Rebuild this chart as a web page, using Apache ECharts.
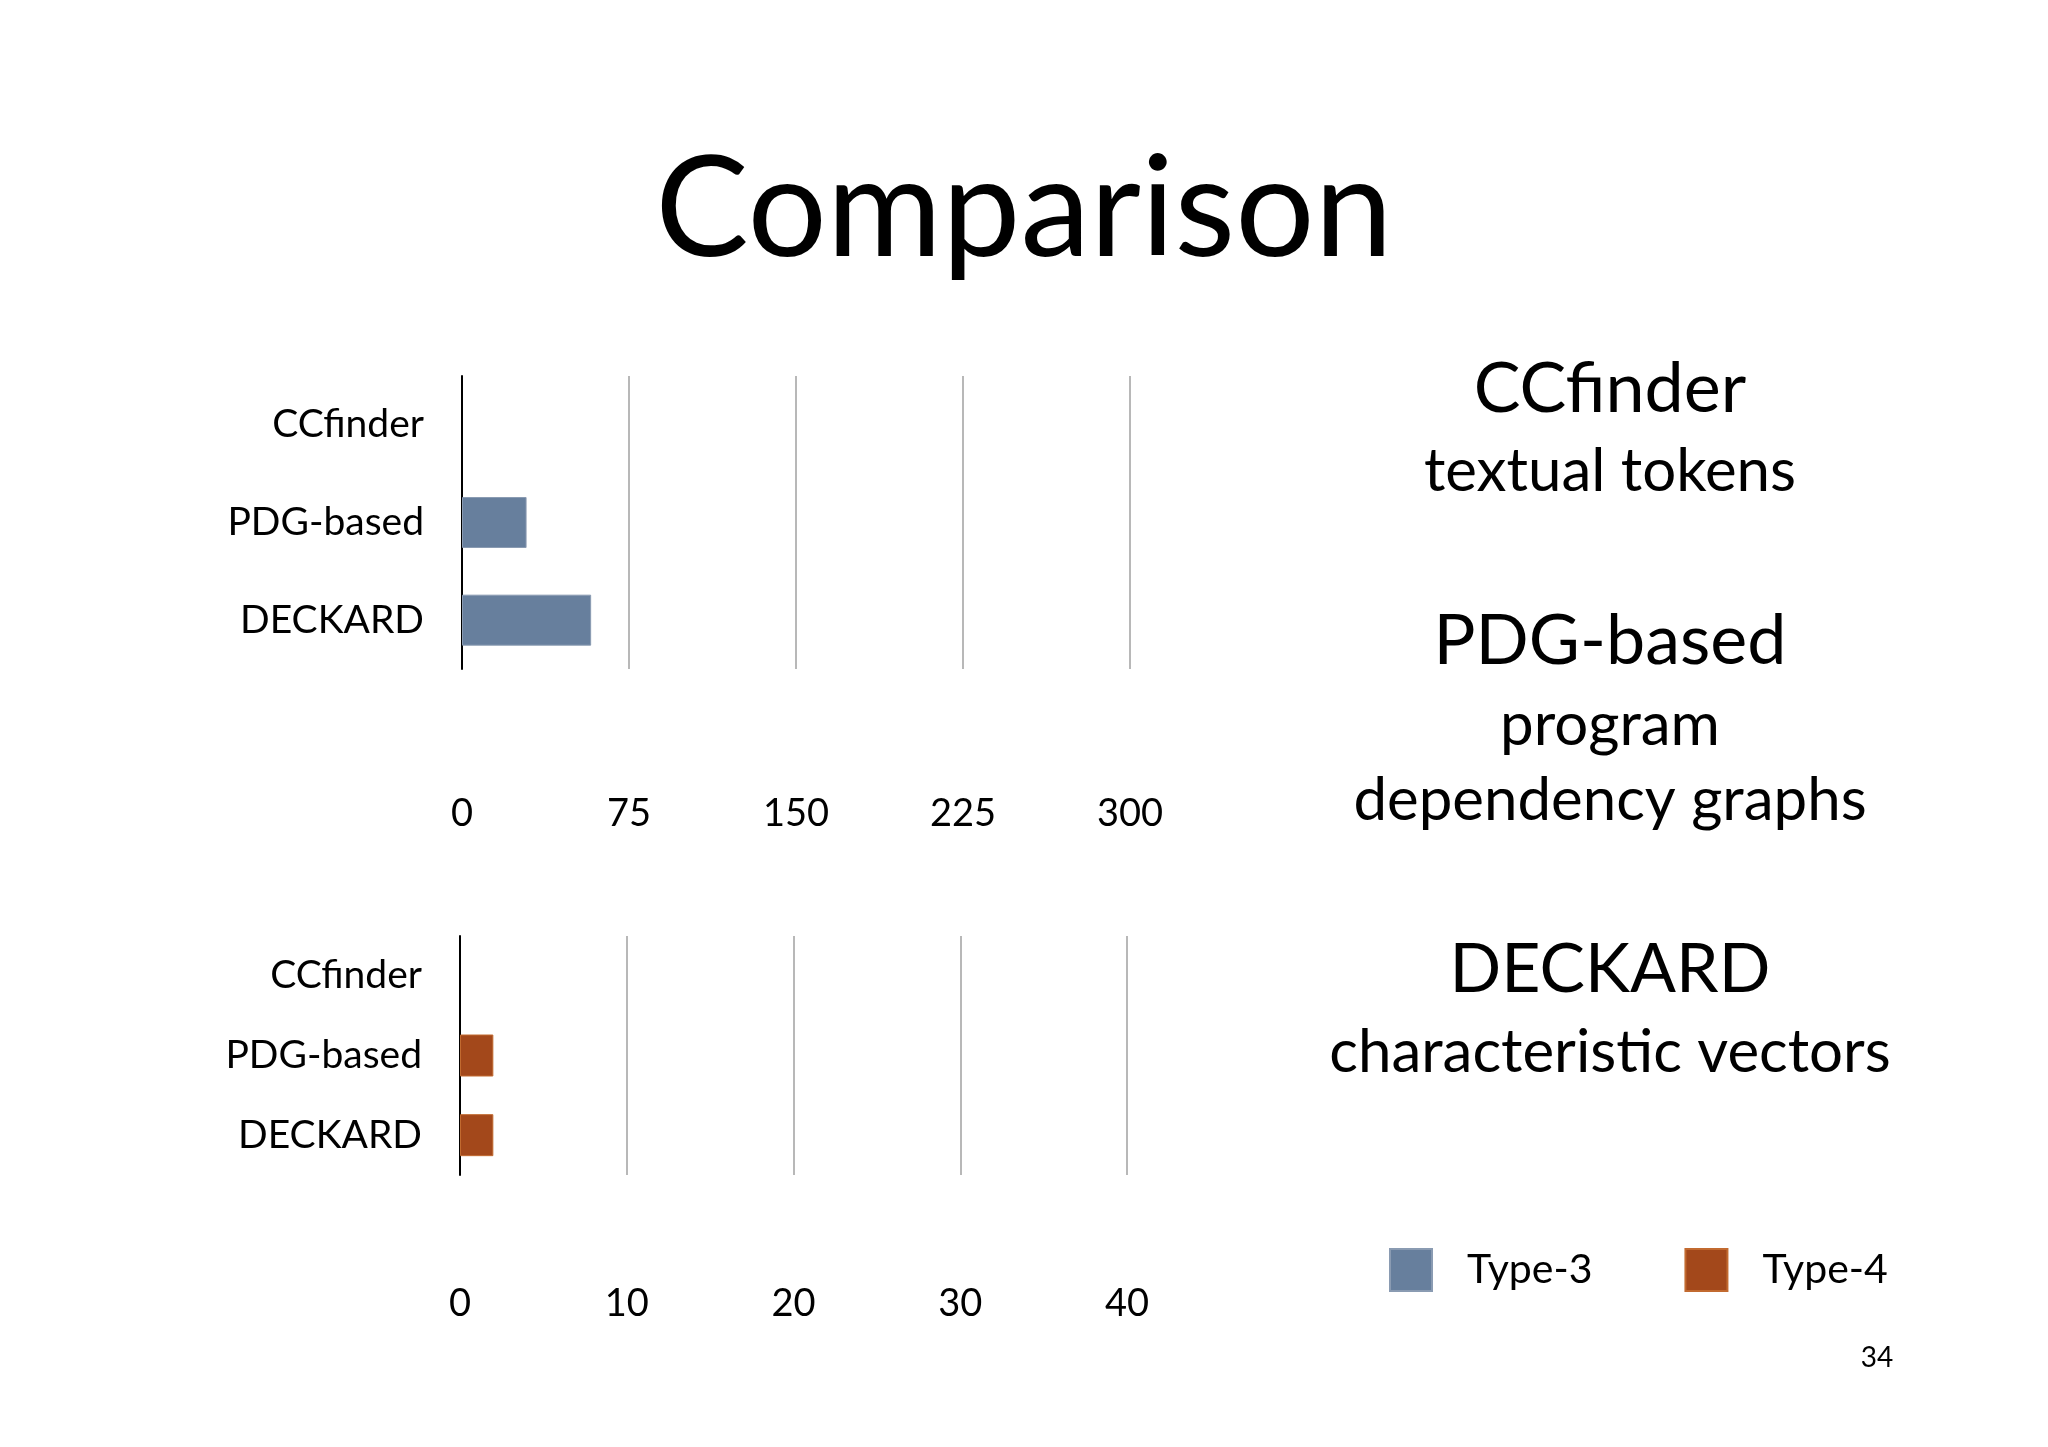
<!DOCTYPE html>
<html><head><meta charset="utf-8">
<script src="https://cdn.jsdelivr.net/npm/echarts@6/dist/echarts.min.js"></script>
<style>html,body{margin:0;background:#fff}#c{width:2048px;height:1447px}</style>
</head><body><div id="c"></div>
<script>
const categories = ['CCfinder', 'PDG-based', 'DECKARD'];
const type3Values = [0, 29, 58];
const type4Values = [0, 2, 2];
const topTicks = [0, 75, 150, 225, 300];
const bottomTicks = [0, 10, 20, 30, 40];
const F = 'Lato, "Open Sans", sans-serif';
const chart = echarts.init(document.getElementById('c'));
const catAxis = (gi) => ({
  type: 'category', gridIndex: gi, data: categories, inverse: true,
  axisLine: {show: true, lineStyle: {color: '#000', width: 2}},
  axisTick: {show: false},
  axisLabel: {fontFamily: F, fontSize: 39, color: '#000', margin: 38}
});
const valAxis = (gi, max, interval, margin) => ({
  type: 'value', gridIndex: gi, min: 0, max: max, interval: interval,
  axisLine: {show: false}, axisTick: {show: false},
  splitLine: {show: true, lineStyle: {color: '#b8b8b8', width: 2}},
  axisLabel: {fontFamily: F, fontSize: 38, color: '#000', margin: margin}
});
const T = (t, x, y, s) => ({type: 'text', x: x, y: y, style: {text: t, fill: '#000', font: s + 'px ' + F, align: 'center', verticalAlign: 'middle'}});
const bars = (arr) => arr.map(v => v === 0 ? '-' : v);
chart.setOption({
  animation: false,
  title: {text: 'Comparison', left: 'center', top: 136, textStyle: {fontFamily: F, fontSize: 140, fontWeight: 'normal', color: '#000'}},
  grid: [
    {left: 462, width: 668, top: 376, height: 293},
    {left: 460, width: 667, top: 936, height: 239}
  ],
  xAxis: [valAxis(0, 300, 75, 126), valAxis(1, 40, 10, 110)],
  yAxis: [catAxis(0), catAxis(1)],
  legend: {left: 1384, top: 1243, itemWidth: 42, itemHeight: 42, itemGap: 92,
    icon: 'rect', textStyle: {fontFamily: F, fontSize: 41, color: '#000', padding: [0, 0, 0, 30]},
    data: ['Type-3', 'Type-4']},
  series: [
    {name: 'Type-3', type: 'bar', xAxisIndex: 0, yAxisIndex: 0, data: bars(type3Values), barWidth: 51,
      itemStyle: {color: '#677f9d', borderColor: '#8a9bb2', borderWidth: 1}},
    {name: 'Type-4', type: 'bar', xAxisIndex: 1, yAxisIndex: 1, data: bars(type4Values), barWidth: 42,
      itemStyle: {color: '#a3481b', borderColor: '#c26a30', borderWidth: 1}}
  ],
  graphic: [
    T('CCfinder', 1610, 389, 70),
    T('textual tokens', 1610, 472, 60),
    T('PDG-based', 1610, 641, 70),
    T('program', 1610, 726, 60),
    T('dependency graphs', 1610, 801, 60),
    T('DECKARD', 1610, 970, 68),
    T('characteristic vectors', 1610, 1053, 60),
    T('34', 1877, 1358, 28)
  ]
});
</script></body></html>
